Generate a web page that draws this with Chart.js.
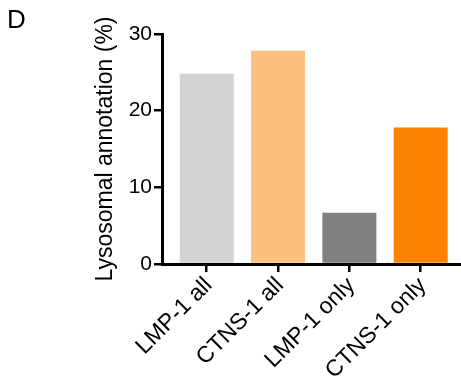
<!DOCTYPE html>
<html>
<head>
<meta charset="utf-8">
<script src="https://cdn.jsdelivr.net/npm/chart.js@4.4.1/dist/chart.umd.min.js"></script>
<style>
  body { margin: 0; background: #fff; }
  #wrap { position: relative; width: 461px; height: 384px; }
  #panel { position: absolute; left: 7px; top: 6px; font: 26px "Liberation Sans", Arial, sans-serif; line-height: 1; color: #000; }
</style>
</head>
<body>
<div id="wrap">
  <canvas id="myChart" width="461" height="384"></canvas>
  <div id="panel">D</div>
</div>
<script>
// datos
const categories = ["LMP-1 all", "CTNS-1 all", "LMP-1 only", "CTNS-1 only"];
const lysosomal = [24.8, 27.8, 6.7, 17.8];
const yTicks = [0, 10, 20, 30];
const barColors = ["#d3d3d3", "#fcc080", "#808080", "#fd8200"];

const font = "'Liberation Sans', Arial, sans-serif";
const ctx = document.getElementById('myChart');

// eje x lineal para dejar el hueco entre el eje y y la primera barra
const points = lysosomal.map((v, i) => ({ x: i + 1, y: v }));

new Chart(ctx, {
    type: 'bar',
    data: {
        datasets: [{
            data: points,
            backgroundColor: barColors,
            borderWidth: 0,
            categoryPercentage: 1,
            barPercentage: 0.757
        }]
    },
    options: {
        responsive: false,
        animation: false,
        layout: { padding: { left: 92, top: 34, right: 0, bottom: 0 } },
        plugins: { legend: { display: false }, tooltip: { enabled: false } },
        scales: {
            x: {
                type: 'linear',
                offset: false,
                min: 0.373,
                max: 4.565,
                afterBuildTicks: (scale) => {
                    scale.ticks = categories.map((c, i) => ({ value: i + 1 }));
                },
                afterFit: (scale) => { scale.height = 120; },
                border: { display: true, color: '#000', width: 3 },
                grid: { offset: false, drawOnChartArea: false, drawTicks: true, tickLength: 8, color: '#000', lineWidth: 2.5 },
                ticks: {
                    autoSkip: false,
                    minRotation: 45,
                    maxRotation: 45,
                    padding: 0,
                    labelOffset: 2,
                    color: '#000',
                    font: { family: font, size: 23 },
                    callback: (v) => categories[v - 1]
                }
            },
            y: {
                min: 0,
                max: 30,
                afterBuildTicks: (scale) => {
                    scale.ticks = yTicks.map(v => ({ value: v }));
                },
                afterFit: (scale) => { scale.width = 70; },
                border: { display: true, color: '#000', width: 3 },
                grid: { drawOnChartArea: false, drawTicks: true, tickLength: 8, color: '#000', lineWidth: 2.5 },
                ticks: {
                    padding: 2,
                    color: '#000',
                    font: { family: font, size: 21 }
                },
                title: {
                    display: true,
                    text: 'Lysosomal annotation (%)',
                    color: '#000',
                    font: { family: font, size: 23 },
                    padding: { top: 0, bottom: 0 }
                }
            }
        }
    }
});
</script>
</body>
</html>
